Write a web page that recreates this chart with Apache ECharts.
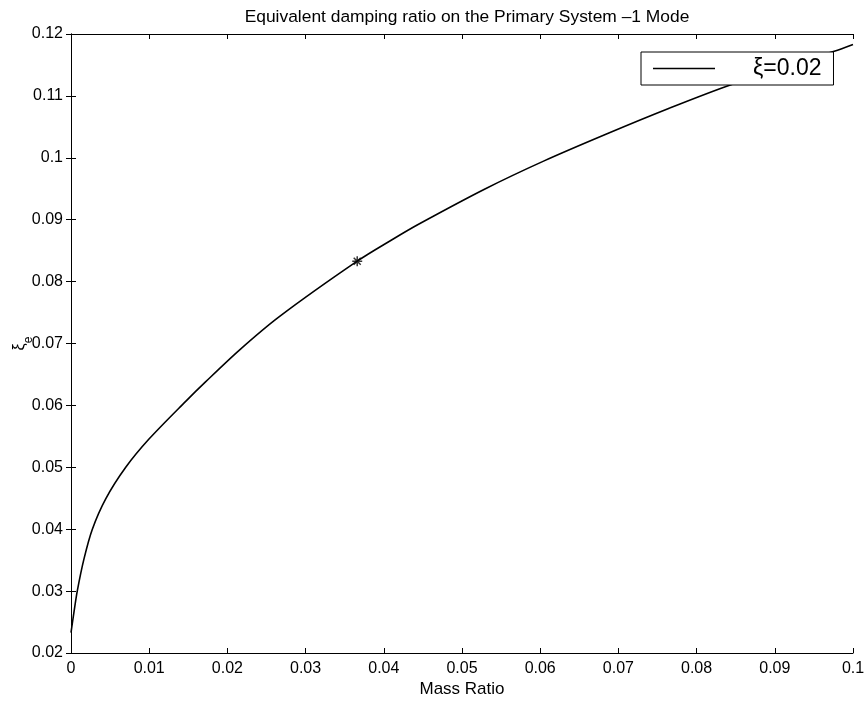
<!DOCTYPE html>
<html>
<head>
<meta charset="utf-8">
<script src="https://cdn.jsdelivr.net/npm/echarts@6/dist/echarts.min.js"></script>
<style>html,body{margin:0;padding:0;background:#fff;}#c{width:867px;height:704px;}</style>
</head>
<body>
<div id="c"></div>
<script>
const massRatio = [0, 0.00038, 0.0008, 0.00166, 0.00273, 0.00444, 0.0070, 0.0100, 0.0147, 0.0172, 0.0215, 0.0266, 0.0366, 0.0411, 0.0445, 0.0530, 0.0605, 0.0684, 0.0765, 0.0844, 0.0976, 0.1];
const dampingRatio = [0.0233, 0.0266, 0.0300, 0.0352, 0.0400, 0.0449, 0.0500, 0.0546, 0.0607, 0.0638, 0.0689, 0.0743, 0.0833, 0.0868, 0.0893, 0.0950, 0.0995, 0.1038, 0.1080, 0.1118, 0.1172, 0.1183];
const optimumPoint = [0.0366, 0.0833];
const seriesName = 'ξ=0.02';
const titleText = 'Equivalent damping ratio on the Primary System –1 Mode';
const xName = 'Mass Ratio';

const chart = echarts.init(document.getElementById('c'));
const font = 'Liberation Sans, Arial, Helvetica, sans-serif';
const axisCommon = {
  axisLine: {show: true, lineStyle: {color: '#000', width: 1}},
  axisTick: {show: true, inside: true, length: 5, lineStyle: {color: '#000'}},
  splitLine: {show: false}
};
chart.setOption({
  animation: false,
  backgroundColor: '#fff',
  title: {
    text: titleText, left: 462, top: 4, textAlign: 'center',
    textStyle: {fontFamily: font, fontSize: 17.4, fontWeight: 'normal', color: '#000'}
  },
  grid: {left: 71, right: 14, top: 34, bottom: 51, outerBoundsMode: 'none', containLabel: false},
  legend: {
    data: [seriesName],
    left: 641, top: 52,
    itemWidth: 62, itemHeight: 1.5,
    padding: [5, 12, 5, 12],
    backgroundColor: '#fff', borderColor: '#000', borderWidth: 1, borderRadius: 0,
    textStyle: {fontFamily: font, fontSize: 23, color: '#000', padding: [0, 0, 0, 33]},
    icon: 'rect'
  },
  xAxis: [
    Object.assign({type: 'value', min: 0, max: 0.1, interval: 0.01, position: 'bottom',
      name: xName, nameLocation: 'middle', nameGap: 28, nameMoveOverlap: false,
      nameTextStyle: {fontFamily: font, fontSize: 17, color: '#000'},
      axisLabel: {fontFamily: font, fontSize: 16, color: '#000', margin: 8}}, axisCommon),
    Object.assign({type: 'value', min: 0, max: 0.1, interval: 0.01, position: 'top',
      axisLabel: {show: false}}, axisCommon)
  ],
  yAxis: [
    Object.assign({type: 'value', min: 0.02, max: 0.12, interval: 0.01, position: 'left',
      name: 'ξ{s|e}', nameLocation: 'middle', nameGap: 43, nameRotate: 90, nameMoveOverlap: false,
      nameTextStyle: {fontFamily: font, fontSize: 16, color: '#000',
        rich: {s: {fontFamily: font, fontSize: 12, color: '#000', verticalAlign: 'bottom', padding: [0, 0, -7, 0]}}},
      axisLabel: {fontFamily: font, fontSize: 16, color: '#000', margin: 8}}, axisCommon),
    Object.assign({type: 'value', min: 0.02, max: 0.12, interval: 0.01, position: 'right',
      axisLabel: {show: false}}, axisCommon)
  ],
  series: [
    {
      name: seriesName, type: 'line',
      data: massRatio.map((x, i) => [x, dampingRatio[i]]),
      smooth: 0.3, showSymbol: false, symbol: 'none',
      lineStyle: {color: '#000', width: 1.6},
      itemStyle: {color: '#000'}
    },
    {
      name: 'point', type: 'scatter',
      data: [optimumPoint],
      symbol: 'path://M0,-10L0,10M-10,0L10,0M-7,-7L7,7M-7,7L7,-7',
      symbolSize: 10,
      itemStyle: {color: '#000', borderColor: '#000', borderWidth: 1.5},
      z: 3
    }
  ]
});
</script>
</body>
</html>
